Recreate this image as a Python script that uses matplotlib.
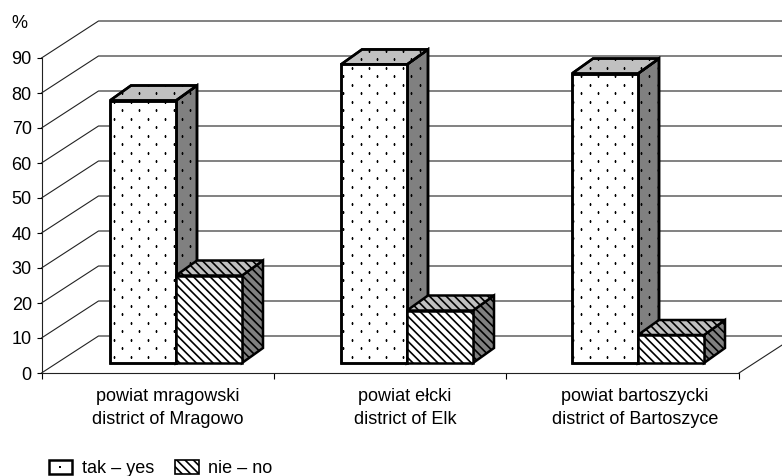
import numpy as np
import matplotlib
matplotlib.use('Agg')
import matplotlib.pyplot as plt
from matplotlib.patches import Polygon, Patch
from matplotlib.lines import Line2D
from matplotlib.legend_handler import HandlerTuple

categories = ['powiat mragowski\ndistrict of Mragowo',
              'powiat ełcki\ndistrict of Elk',
              'powiat bartoszycki\ndistrict of Bartoszyce']
yes_values = [75, 85.3, 82.7]
no_values = [25, 15, 8]
y_ticks = list(range(0, 100, 10))
series_labels = ['tak – yes', 'nie – no']

plt.rcParams['font.family'] = ['Liberation Sans', 'DejaVu Sans']
plt.rcParams['hatch.linewidth'] = 1.2
STRIPES = '\\' * 4

# pixels per data unit
px_x = 232.5
px_y = 3.5

# wall depth, bar depth, bar inset from the front of the floor
wall_dx, wall_dy = 57 / px_x, 37 / px_y
bar_dx, bar_dy = 21 / px_x, 15 / px_y
base = 10 / px_y
bar_w = 66 / px_x
group_left = [(110 - 41.5) / px_x, (341 - 41.5) / px_x, (572 - 41.5) / px_x]
label_pos = [(168 - 41.5) / px_x, (405 - 41.5) / px_x, (635 - 41.5) / px_x]

fig = plt.figure(figsize=(7.82, 4.76), dpi=100)
ax = fig.add_axes([41.5 / 782, (476 - 373) / 476, 697.5 / 782, 315 / 476])
ax.set_xlim(0, 3)
ax.set_ylim(0, 90)


def dots(poly):
    # staggered dot lattice, cut to the face it belongs to
    xs = np.arange(-0.2, 3.4, 17 / px_x)
    ys = np.arange(-5, 110, 8.5 / px_y)
    xx, yy = np.meshgrid(xs, ys)
    xx = xx + (np.arange(len(ys)) % 2)[:, None] * 8.5 / px_x
    line, = ax.plot(xx.ravel(), yy.ravel(), ls='none', marker='s', ms=1.3, mew=0,
                    color='black', clip_on=True, zorder=poly.get_zorder() + 0.1)
    line.set_clip_path(poly)


def face(pts, color, hatch, z):
    poly = Polygon(pts, closed=True, facecolor=color, edgecolor='black', lw=1.8,
                   hatch=STRIPES if hatch == 'stripes' else None,
                   joinstyle='miter', clip_on=False, zorder=z)
    ax.add_patch(poly)
    if hatch == 'dots':
        dots(poly)
        # outline again on top of the dots
        ax.add_patch(Polygon(pts, closed=True, fill=False, edgecolor='black', lw=1.8,
                             joinstyle='miter', clip_on=False, zorder=z + 0.2))


def bar3d(x0, value, hatch, z):
    x1 = x0 + bar_w
    y0 = base
    y1 = base + value
    face([(x1, y0), (x1 + bar_dx, y0 + bar_dy), (x1 + bar_dx, y1 + bar_dy), (x1, y1)],
         '#808080', hatch, z)
    face([(x0, y1), (x1, y1), (x1 + bar_dx, y1 + bar_dy), (x0 + bar_dx, y1 + bar_dy)],
         '#c0c0c0', hatch, z + 1)
    face([(x0, y0), (x1, y0), (x1, y1), (x0, y1)], 'white', hatch, z + 2)


# walls
for v in y_ticks:
    ax.plot([0, wall_dx, 3 + wall_dx], [v, v + wall_dy, v + wall_dy], color='#222222',
            lw=0.8, clip_on=False, zorder=1)
ax.plot([3, 3 + wall_dx], [0, wall_dy], color='#222222', lw=0.8, clip_on=False, zorder=1)

for i in range(3):
    z = 3 + i * 10
    bar3d(group_left[i], yes_values[i], 'dots', z)
    bar3d(group_left[i] + bar_w, no_values[i], 'stripes', z + 4)

for s in ['top', 'right']:
    ax.spines[s].set_visible(False)
for s in ['left', 'bottom']:
    ax.spines[s].set_linewidth(0.8)
    ax.spines[s].set_color('#222222')
    ax.spines[s].set_zorder(2)

ax.set_yticks(y_ticks)
ax.tick_params(axis='y', labelsize=13, length=3.5, width=0.8, pad=3.5)
ax.set_xticks(label_pos)
ax.set_xticklabels(categories, fontsize=13, linespacing=1.42)
ax.set_xticks([0, 1, 2, 3], minor=True)
ax.tick_params(axis='x', which='major', length=0, pad=11)
ax.tick_params(axis='x', which='minor', length=4.5, width=0.8)
ax.patch.set_visible(False)

fig.text(11 / 782, 1 - 23.5 / 476, '%', fontsize=13, va='center', ha='left')

handles = [(Patch(facecolor='white', edgecolor='black', lw=1.8),
            Line2D([], [], ls='none', marker='s', ms=1.5, mew=0, color='black')),
           Patch(facecolor='white', edgecolor='black', lw=1.2, hatch=STRIPES)]
fig.legend(handles, series_labels, loc='lower left', bbox_to_anchor=(45 / 782, -5 / 476),
           ncol=2, frameon=False, fontsize=13, handlelength=1.3, handleheight=0.85,
           handletextpad=0.55, columnspacing=1.15, borderpad=0.2, borderaxespad=0,
           handler_map={tuple: HandlerTuple(ndivide=1, pad=0)})

fig.savefig('out.png', dpi=100)
